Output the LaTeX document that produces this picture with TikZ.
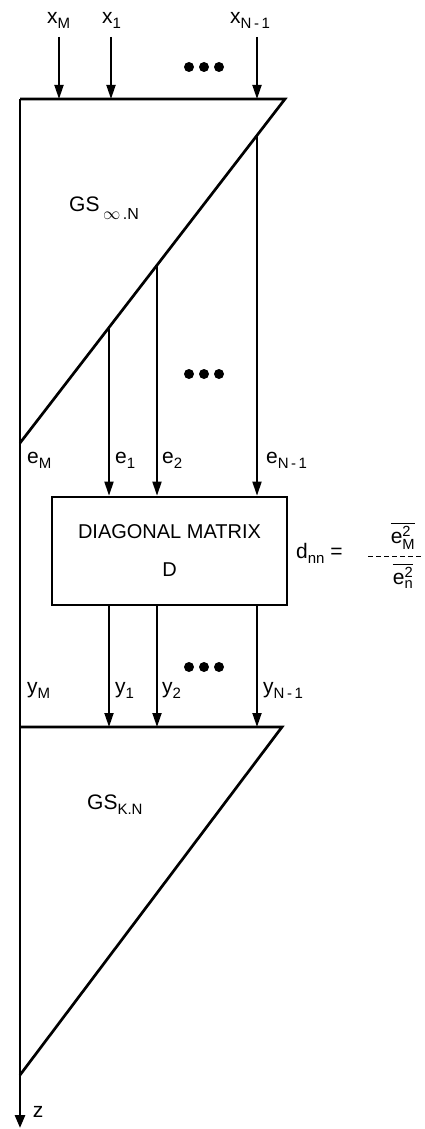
\documentclass[tikz,border=0pt]{standalone}
\usepackage{amsmath}
\usepackage{fontspec}
\setmainfont{Liberation Sans}
\usetikzlibrary{arrows.meta, positioning}
\newcommand\lsub[1]{\raisebox{-5pt}{\fontsize{15}{16}\selectfont #1}}
\tikzset{
  edge/.style={line width=2.7pt, line join=miter},
  wire/.style={line width=1.8pt},
  arrow/.style={wire, -{Triangle[length=14pt, width=9pt]}},
  block/.style={
    rectangle, draw, line width=2.7pt, minimum width=235pt, minimum height=108pt,
    align=center, font=\fontsize{20}{38}\selectfont
  },
  label/.style={font=\fontsize{21}{24}\selectfont, inner sep=0pt},
  dot/.style={fill=black}
}

\begin{document}
\begin{tikzpicture}[x=1pt, y=-1pt]
  \useasboundingbox (0,0) rectangle (425,1129);

  % Ecken der Dreiecke
  \coordinate (ta) at (20,99);
  \coordinate (tb) at (285,99);
  \coordinate (tc) at (20,443);
  \coordinate (ba) at (20,727);
  \coordinate (bb) at (282,727);
  \coordinate (bc) at (20,1075);
  \coordinate (zend) at (20,1128);

  % Eingaenge
  \coordinate (inM) at (59,37);
  \coordinate (in1) at (111,37);
  \coordinate (inN) at (257,37);

  % Abzweigungen auf der Diagonale
  \coordinate (s1) at (109,327.5);
  \coordinate (s2) at (157,265.2);
  \coordinate (sN) at (257,135.3);

  % Matrix
  \node[block] (diag) at (169.5,551) {DIAGONAL MATRIX\\D};

  % Dreiecke
  \draw[edge] (tc) -- (tb) -- (ta);
  \draw[edge] (bc) -- (bb) -- (ba);
  \draw[edge, -{Triangle[length=13pt, width=10pt]}] (ta) -- (zend);

  % Pfeile oben
  \draw[arrow] (inM) -- (inM |- ta);
  \draw[arrow] (in1) -- (in1 |- ta);
  \draw[arrow] (inN) -- (inN |- ta);

  % Pfeile in die Matrix
  \draw[arrow] (s1) -- (s1 |- diag.north);
  \draw[arrow] (s2) -- (s2 |- diag.north);
  \draw[arrow] (sN) -- (sN |- diag.north);

  % Pfeile aus der Matrix
  \draw[arrow] (s1 |- diag.south) -- (s1 |- ba);
  \draw[arrow] (s2 |- diag.south) -- (s2 |- ba);
  \draw[arrow] (sN |- diag.south) -- (sN |- ba);

  % Punkte
  \foreach \y in {67,374,667}
    \foreach \x in {189,204,219}
      \fill[dot] (\x,\y) circle (5);

  % Beschriftungen
  \node[label, anchor=west] (xMl) at (47,20) {x\lsub{M}};
  \node[label, anchor=west] (x1l) at (102,20) {x\lsub{1}};
  \node[label, anchor=west] (xNl) at (230,20) {x\lsub{N\,-\,1}};

  \node[label, anchor=west] (gsinf) at (69,208)
    {GS\,\raisebox{-8pt}{\fontsize{16}{16}\selectfont$\infty$\,.N}};

  \node[label, anchor=west] (eMl) at (27,460) {e\lsub{M}};
  \node[label, anchor=west] (e1l) at (115,460) {e\lsub{1}};
  \node[label, anchor=west] (e2l) at (162,460) {e\lsub{2}};
  \node[label, anchor=west] (eNl) at (266,460) {e\lsub{N\,-\,1}};

  \node[label, anchor=west] (yMl) at (27,690) {y\lsub{M}};
  \node[label, anchor=west] (y1l) at (115,690) {y\lsub{1}};
  \node[label, anchor=west] (y2l) at (162,690) {y\lsub{2}};
  \node[label, anchor=west] (yNl) at (263,690) {y\lsub{N\,-\,1}};

  \node[label, anchor=west] (gsk) at (87,805) {GS\lsub{K.N}};
  \node[label] (zl) at (38,1112) {z};

  % Formel
  \node[label, anchor=west] (dnn) at (296,553) {d\lsub{nn} =};
  \node[label, anchor=south] (num) at (403,550)
    {$\overline{\text{e}^{\text{2}}_{\text{M}}}$};
  \node[label, anchor=north] (den) at (403,563)
    {$\overline{\text{e}^{\text{2}}_{\text{n}}}$};
  \draw[line width=1pt, dash pattern=on 5pt off 3pt] (368,556) -- (422,556);
\end{tikzpicture}
\end{document}
